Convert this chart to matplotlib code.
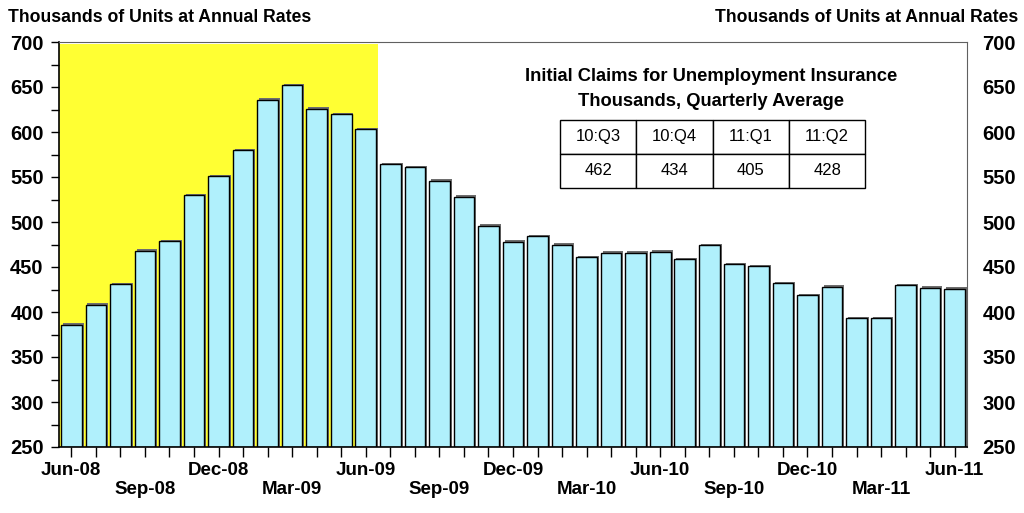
import matplotlib.pyplot as plt
from matplotlib.ticker import MultipleLocator

plt.rcParams['font.family'] = ['Liberation Sans', 'DejaVu Sans']

months = ["Jun-08", "Jul-08", "Aug-08", "Sep-08", "Oct-08", "Nov-08", "Dec-08",
          "Jan-09", "Feb-09", "Mar-09", "Apr-09", "May-09", "Jun-09",
          "Jul-09", "Aug-09", "Sep-09", "Oct-09", "Nov-09", "Dec-09",
          "Jan-10", "Feb-10", "Mar-10", "Apr-10", "May-10", "Jun-10",
          "Jul-10", "Aug-10", "Sep-10", "Oct-10", "Nov-10", "Dec-10",
          "Jan-11", "Feb-11", "Mar-11", "Apr-11", "May-11", "Jun-11"]
claims = [386, 408, 431, 468, 479, 530, 551, 580, 636, 652, 626, 620, 603,
          564, 561, 546, 528, 496, 478, 484, 475, 461, 466, 466, 467,
          459, 474, 453, 451, 432, 419, 428, 393, 393, 430, 427, 426]
recession = (0, 12)  # index range shaded
quarters = ["10:Q3", "10:Q4", "11:Q1", "11:Q2"]
quarter_avg = ["462", "434", "405", "428"]

fig = plt.figure(figsize=(10.24, 5.13), dpi=100)
ax = fig.add_axes([59/1024, 1-447/513, 908/1024, 405/513])

x = list(range(len(months)))
ax.axvspan(recession[0]-0.5, recession[1]+0.5, ymin=0, ymax=0.995,
           color='#FFFF33', zorder=0, lw=0)
# drop shadow behind the bars
ax.bar([i + 0.08 for i in x], [v + 1.5 - 250 for v in claims], bottom=250,
       width=0.84, color='#6E6E6E', lw=0, zorder=1)
ax.bar(x, [v - 250 for v in claims], bottom=250, width=0.84,
       color='#B0F0FC', edgecolor='black', lw=1, zorder=2)

ax.set_xlim(-0.5, len(months) - 0.5)
ax.set_ylim(250, 700)
ax.yaxis.set_major_locator(MultipleLocator(50))
ax.yaxis.set_minor_locator(MultipleLocator(25))

labels = []
for i, m in enumerate(months):
    if i % 6 == 0:
        labels.append(m)
    elif i % 3 == 0:
        labels.append("\n" + m)
    else:
        labels.append("")
ax.set_xticks(x)
ax.set_xticklabels(labels, fontsize=13.5, fontweight='bold', linespacing=1.1)
ax.tick_params(axis='x', direction='out', length=7, width=1, pad=4)
ax.tick_params(axis='y', which='major', direction='out', length=6, width=1,
               labelsize=14.5, pad=5, right=False, labelright=True)
ax.tick_params(axis='y', which='minor', direction='out', length=6, width=1)
for lab in ax.get_yticklabels():
    lab.set_fontweight('bold')

for side in ['top', 'right']:
    ax.spines[side].set_color('#606060')
ax.spines['left'].set_linewidth(1.2)
ax.spines['bottom'].set_linewidth(1.2)

fig.text(8/1024, 1-18/513, "Thousands of Units at Annual Rates", fontsize=12.7,
         fontweight='bold', ha='left', va='center')
fig.text(1018/1024, 1-18/513, "Thousands of Units at Annual Rates", fontsize=12.7,
         fontweight='bold', ha='right', va='center')

ax.text(0.718, 0.914, "Initial Claims for Unemployment Insurance",
        transform=ax.transAxes, ha='center', va='center', fontsize=13.2,
        fontweight='bold')
ax.text(0.718, 0.852, "Thousands, Quarterly Average",
        transform=ax.transAxes, ha='center', va='center', fontsize=13.2,
        fontweight='bold')

tbl = ax.table(cellText=[quarters, quarter_avg], cellLoc='center',
               bbox=[0.552, 0.640, 0.336, 0.168])
tbl.auto_set_font_size(False)
tbl.set_fontsize(12)
for cell in tbl.get_celld().values():
    cell.set_facecolor('white')
    cell.set_linewidth(1)
tbl.set_zorder(5)

fig.savefig("out.png", dpi=100)
